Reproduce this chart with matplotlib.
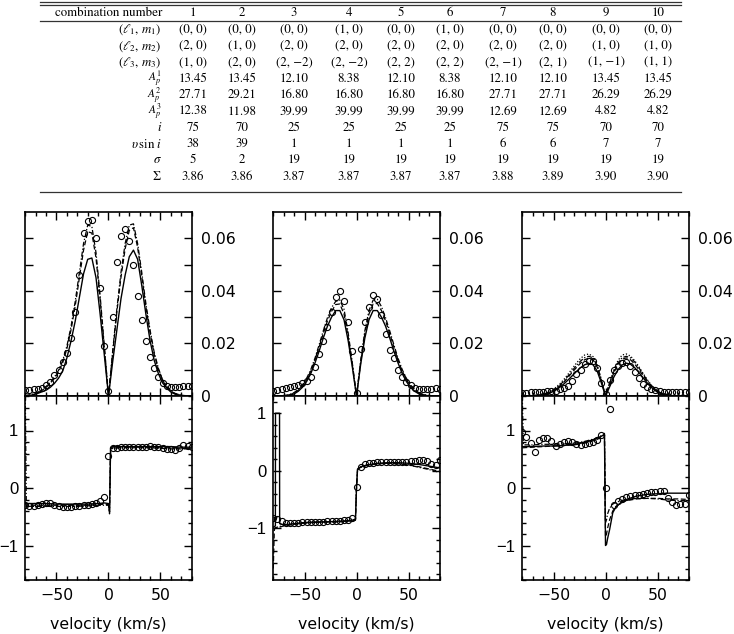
import numpy as np
import matplotlib
matplotlib.use("Agg")
import matplotlib.pyplot as plt
from matplotlib.lines import Line2D
from matplotlib.ticker import FixedLocator, MultipleLocator

plt.rcParams["font.family"] = "DejaVu Sans"
plt.rcParams["mathtext.fontset"] = "stix"

W, H = 734, 634  # размер картинки в пикселях

# ─── таблица параметров ───
combo = ["1", "2", "3", "4", "5", "6", "7", "8", "9", "10"]
lm1 = ["(0, 0)", "(0, 0)", "(0, 0)", "(1, 0)", "(0, 0)", "(1, 0)", "(0, 0)", "(0, 0)", "(0, 0)", "(0, 0)"]
lm2 = ["(2, 0)", "(1, 0)", "(2, 0)", "(2, 0)", "(2, 0)", "(2, 0)", "(2, 0)", "(2, 0)", "(1, 0)", "(1, 0)"]
lm3 = ["(1, 0)", "(2, 0)", "(2, −2)", "(2, −2)", "(2, 2)", "(2, 2)", "(2, −1)", "(2, 1)", "(1, −1)", "(1, 1)"]
amp1 = ["13.45", "13.45", "12.10", "8.38", "12.10", "8.38", "12.10", "12.10", "13.45", "13.45"]
amp2 = ["27.71", "29.21", "16.80", "16.80", "16.80", "16.80", "27.71", "27.71", "26.29", "26.29"]
amp3 = ["12.38", "11.98", "39.99", "39.99", "39.99", "39.99", "12.69", "12.69", "4.82", "4.82"]
incl = ["75", "70", "25", "25", "25", "25", "75", "75", "70", "70"]
vsini = ["38", "39", "1", "1", "1", "1", "6", "6", "7", "7"]
sig = ["5", "2", "19", "19", "19", "19", "19", "19", "19", "19"]
chi = ["3.86", "3.86", "3.87", "3.87", "3.87", "3.87", "3.88", "3.89", "3.90", "3.90"]
row_names = [r"$(\ell_1,\, m_1)$", r"$(\ell_2,\, m_2)$", r"$(\ell_3,\, m_3)$",
             r"$A_p^1$", r"$A_p^2$", r"$A_p^3$", r"$i$", r"$\upsilon\,\sin\,i$",
             r"$\sigma$", r"$\Sigma$"]
rows = [lm1, lm2, lm3, amp1, amp2, amp3, incl, vsini, sig, chi]

# ─── профили (верхние панели), сетка по скорости ───
vel = np.arange(-80, 81, 4)

obs_I = [
    # колонка 1
    [0.0022, 0.0024, 0.0026, 0.0028, 0.0032, 0.0040, 0.0054, 0.0078, 0.0100, 0.0128,
     0.0165, 0.0220, 0.0320, 0.0460, 0.0620, 0.0665, 0.0670, 0.0600, 0.0410, 0.0190,
     0.0020, 0.0300, 0.0510, 0.0610, 0.0635, 0.0590, 0.0500, 0.0380, 0.0290, 0.0210,
     0.0150, 0.0108, 0.0072, 0.0048, 0.0037, 0.0035, 0.0035, 0.0036, 0.0037, 0.0038, 0.0038],
    # колонка 2
    [0.0020, 0.0024, 0.0027, 0.0030, 0.0033, 0.0037, 0.0043, 0.0050, 0.0058, 0.0072,
     0.0110, 0.0160, 0.0210, 0.0262, 0.0320, 0.0375, 0.0400, 0.0360, 0.0280, 0.0170,
     0.0010, 0.0180, 0.0280, 0.0340, 0.0385, 0.0370, 0.0310, 0.0235, 0.0175, 0.0145,
     0.0100, 0.0073, 0.0052, 0.0040, 0.0030, 0.0026, 0.0025, 0.0025, 0.0027, 0.0030, 0.0028],
    # колонка 3
    [0.0012, 0.0013, 0.0014, 0.0015, 0.0016, 0.0017, 0.0018, 0.0019, 0.0020, 0.0025,
     0.0030, 0.0038, 0.0058, 0.0082, 0.0100, 0.0121, 0.0133, 0.0132, 0.0105, 0.0048,
     0.0008, 0.0062, 0.0100, 0.0115, 0.0124, 0.0128, 0.0113, 0.0092, 0.0068, 0.0047,
     0.0035, 0.0026, 0.0022, 0.0018, 0.0016, 0.0015, 0.0014, 0.0014, 0.0015, 0.0015, 0.0015],
]

fit_I_solid = [
    [0.0001, 0.0002, 0.0005, 0.0010, 0.0016, 0.0022, 0.0033, 0.0048, 0.0068, 0.0095,
     0.0145, 0.0210, 0.0285, 0.0375, 0.0465, 0.0520, 0.0525, 0.0450, 0.0310, 0.0155,
     0.0000, 0.0130, 0.0250, 0.0370, 0.0460, 0.0530, 0.0555, 0.0520, 0.0420, 0.0310,
     0.0210, 0.0135, 0.0085, 0.0050, 0.0030, 0.0015, 0.0007, 0.0003, 0.0001, 0.0000, 0.0000],
    [0.0000, 0.0000, 0.0000, 0.0001, 0.0003, 0.0008, 0.0018, 0.0033, 0.0055, 0.0085,
     0.0125, 0.0170, 0.0220, 0.0265, 0.0300, 0.0325, 0.0325, 0.0290, 0.0210, 0.0110,
     0.0000, 0.0120, 0.0220, 0.0290, 0.0325, 0.0325, 0.0300, 0.0265, 0.0220, 0.0170,
     0.0125, 0.0085, 0.0055, 0.0033, 0.0018, 0.0008, 0.0003, 0.0001, 0.0000, 0.0000, 0.0000],
    [0.0000, 0.0000, 0.0000, 0.0001, 0.0002, 0.0004, 0.0008, 0.0014, 0.0022, 0.0033,
     0.0046, 0.0061, 0.0077, 0.0093, 0.0108, 0.0119, 0.0124, 0.0119, 0.0095, 0.0050,
     0.0000, 0.0035, 0.0072, 0.0100, 0.0118, 0.0125, 0.0121, 0.0108, 0.0090, 0.0070,
     0.0050, 0.0033, 0.0020, 0.0011, 0.0006, 0.0003, 0.0001, 0.0000, 0.0000, 0.0000, 0.0000],
]

fit_I_dashed = [
    [0.0001, 0.0003, 0.0006, 0.0012, 0.0021, 0.0033, 0.0048, 0.0067, 0.0092, 0.0127,
     0.0180, 0.0252, 0.0343, 0.0450, 0.0555, 0.0625, 0.0620, 0.0525, 0.0365, 0.0182,
     0.0000, 0.0163, 0.0318, 0.0452, 0.0560, 0.0630, 0.0640, 0.0565, 0.0455, 0.0338,
     0.0240, 0.0158, 0.0100, 0.0059, 0.0034, 0.0019, 0.0009, 0.0004, 0.0002, 0.0001, 0.0000],
    [0.0000, 0.0000, 0.0001, 0.0002, 0.0005, 0.0011, 0.0022, 0.0038, 0.0062, 0.0094,
     0.0136, 0.0185, 0.0237, 0.0285, 0.0322, 0.0348, 0.0350, 0.0312, 0.0226, 0.0118,
     0.0000, 0.0128, 0.0236, 0.0312, 0.0350, 0.0352, 0.0325, 0.0285, 0.0237, 0.0185,
     0.0136, 0.0094, 0.0062, 0.0038, 0.0022, 0.0011, 0.0005, 0.0002, 0.0001, 0.0000, 0.0000],
    [0.0000, 0.0000, 0.0000, 0.0001, 0.0003, 0.0005, 0.0010, 0.0017, 0.0026, 0.0038,
     0.0053, 0.0071, 0.0090, 0.0108, 0.0125, 0.0138, 0.0144, 0.0138, 0.0110, 0.0058,
     0.0000, 0.0045, 0.0088, 0.0120, 0.0140, 0.0145, 0.0138, 0.0122, 0.0101, 0.0078,
     0.0056, 0.0037, 0.0023, 0.0013, 0.0007, 0.0003, 0.0001, 0.0000, 0.0000, 0.0000, 0.0000],
]

fit_I_dashdot = [
    [0.0002, 0.0004, 0.0008, 0.0014, 0.0024, 0.0036, 0.0052, 0.0072, 0.0098, 0.0135,
     0.0190, 0.0265, 0.0360, 0.0470, 0.0580, 0.0650, 0.0645, 0.0545, 0.0380, 0.0190,
     0.0000, 0.0170, 0.0330, 0.0470, 0.0580, 0.0650, 0.0655, 0.0580, 0.0470, 0.0350,
     0.0250, 0.0165, 0.0105, 0.0062, 0.0036, 0.0020, 0.0010, 0.0005, 0.0002, 0.0001, 0.0000],
    [0.0000, 0.0000, 0.0001, 0.0003, 0.0006, 0.0013, 0.0025, 0.0042, 0.0067, 0.0100,
     0.0143, 0.0194, 0.0247, 0.0297, 0.0336, 0.0360, 0.0365, 0.0330, 0.0240, 0.0125,
     0.0000, 0.0135, 0.0248, 0.0325, 0.0365, 0.0368, 0.0340, 0.0297, 0.0247, 0.0194,
     0.0143, 0.0100, 0.0067, 0.0042, 0.0025, 0.0013, 0.0006, 0.0003, 0.0001, 0.0000, 0.0000],
    [0.0000, 0.0000, 0.0001, 0.0002, 0.0003, 0.0006, 0.0011, 0.0018, 0.0028, 0.0041,
     0.0057, 0.0076, 0.0096, 0.0116, 0.0133, 0.0146, 0.0151, 0.0145, 0.0115, 0.0061,
     0.0000, 0.0048, 0.0093, 0.0126, 0.0146, 0.0151, 0.0145, 0.0130, 0.0108, 0.0084,
     0.0060, 0.0040, 0.0025, 0.0014, 0.0008, 0.0004, 0.0002, 0.0000, 0.0000, 0.0000, 0.0000],
]

# точечная модель видна только в третьей колонке
fit_I_dotted_3 = [0.0000, 0.0000, 0.0001, 0.0002, 0.0004, 0.0007, 0.0013, 0.0021, 0.0032, 0.0046,
                  0.0063, 0.0083, 0.0104, 0.0125, 0.0143, 0.0156, 0.0160, 0.0150, 0.0118, 0.0063,
                  0.0000, 0.0052, 0.0100, 0.0135, 0.0156, 0.0160, 0.0152, 0.0135, 0.0112, 0.0087,
                  0.0063, 0.0042, 0.0027, 0.0016, 0.0009, 0.0004, 0.0002, 0.0001, 0.0000, 0.0000, 0.0000]

# ─── отношения (нижние панели) ───
obs_R = [
    [-0.30, -0.31, -0.31, -0.30, -0.28, -0.26, -0.26, -0.29, -0.32, -0.33,
     -0.33, -0.33, -0.32, -0.31, -0.30, -0.29, -0.28, -0.26, -0.23, -0.16,
     0.55, 0.69, 0.70, 0.71, 0.71, 0.72, 0.72, 0.72, 0.72, 0.72,
     0.73, 0.72, 0.71, 0.70, 0.68, 0.68, 0.66, 0.70, 0.74, 0.73, 0.72],
    [-0.82, -0.84, -0.88, -0.90, -0.90, -0.90, -0.90, -0.89, -0.89, -0.89,
     -0.89, -0.89, -0.89, -0.88, -0.88, -0.88, -0.87, -0.86, -0.85, -0.83,
     -0.28, 0.07, 0.11, 0.13, 0.14, 0.145, 0.15, 0.15, 0.155, 0.155,
     0.15, 0.15, 0.16, 0.17, 0.17, 0.18, 0.19, 0.17, 0.12, 0.10, 0.19],
    [0.97, 0.89, 0.78, 0.62, 0.83, 0.87, 0.87, 0.81, 0.73, 0.76,
     0.80, 0.81, 0.80, 0.76, 0.75, 0.77, 0.79, 0.80, 0.84, 0.92,
     0.00, 1.38, -0.30, -0.22, -0.19, -0.16, -0.145, -0.13, -0.12, -0.11,
     -0.08, -0.075, -0.07, -0.05, -0.05, -0.17, -0.25, -0.30, -0.27, -0.27, -0.13],
]

vel_R1 = [-80, -79, -70, -60, -50, -40, -30, -20, -10, -4, 0, 1, 2, 4, 10, 20, 30, 40, 50, 60, 70, 80]
fit_R1_solid = [-0.27, -0.27, -0.27, -0.27, -0.28, -0.28, -0.28, -0.28, -0.27, -0.26, -0.27, -0.42,
                0.70, 0.72, 0.72, 0.72, 0.72, 0.72, 0.72, 0.72, 0.71, 0.71]
fit_R1_dashed = [-0.25, -0.30, -0.30, -0.30, -0.30, -0.30, -0.30, -0.30, -0.29, -0.28, -0.29, -0.38,
                 0.68, 0.70, 0.70, 0.70, 0.70, 0.70, 0.69, 0.68, 0.68, 0.68]
fit_R1_dashdot = [1.60, -0.32, -0.32, -0.32, -0.32, -0.32, -0.32, -0.31, -0.30, -0.30, -0.30, -0.45,
                  0.66, 0.69, 0.70, 0.71, 0.71, 0.71, 0.70, 0.70, 0.69, 0.69]

vel_R2 = [-80, -79, -78, -77.9, -74, -73.9, -70, -60, -50, -40, -30, -20, -10, -4, -1, 0, 1, 4,
          10, 20, 30, 40, 50, 60, 70, 80]
fit_R2_solid = [-0.98, -0.97, -0.96, 1.00, 1.00, -0.92, -0.94, -0.92, -0.90, -0.89, -0.89, -0.88,
                -0.87, -0.86, -0.84, -0.30, 0.03, 0.07, 0.10, 0.13, 0.14, 0.14, 0.13, 0.11, 0.08, 0.05]
fit_R2_dashed = [-1.70, -1.02, -1.00, -1.00, -0.98, -0.98, -0.96, -0.93, -0.91, -0.90, -0.89, -0.89,
                 -0.88, -0.87, -0.86, -0.30, 0.02, 0.06, 0.09, 0.12, 0.13, 0.12, 0.10, 0.07, 0.03, -0.01]
fit_R2_dashdot = [-1.00, -1.00, -0.99, -0.99, -0.97, -0.97, -0.95, -0.93, -0.91, -0.90, -0.89, -0.89,
                  -0.88, -0.87, -0.85, -0.30, 0.02, 0.06, 0.10, 0.12, 0.13, 0.12, 0.10, 0.06, 0.02, -0.03]

vel_R3 = [-80, -79, -70, -60, -50, -40, -30, -20, -10, -4, -1, 0, 1, 2, 4, 7, 10, 15, 20, 30, 40,
          50, 60, 70, 80]
fit_R3_solid = [0.72, 0.72, 0.72, 0.73, 0.73, 0.74, 0.76, 0.79, 0.85, 0.90, 0.93, -1.00, -0.98,
                -0.88, -0.72, -0.43, -0.33, -0.25, -0.20, -0.14, -0.11, -0.10, -0.09, -0.09, -0.09]
fit_R3_dashed = [0.70, 0.70, 0.71, 0.72, 0.73, 0.74, 0.75, 0.78, 0.83, 0.88, 0.92, -0.85, -0.80,
                 -0.70, -0.55, -0.40, -0.32, -0.26, -0.22, -0.19, -0.18, -0.18, -0.19, -0.19, -0.20]
fit_R3_dashdot = [1.60, 0.75, 0.75, 0.76, 0.76, 0.77, 0.78, 0.81, 0.86, 0.91, 0.95, -0.60, -0.55,
                  -0.45, -0.35, -0.28, -0.25, -0.22, -0.20, -0.18, -0.18, -0.19, -0.21, -0.22, -0.22]

ratio_fits = [
    (vel_R1, fit_R1_solid, fit_R1_dashed, fit_R1_dashdot),
    (vel_R2, fit_R2_solid, fit_R2_dashed, fit_R2_dashdot),
    (vel_R3, fit_R3_solid, fit_R3_dashed, fit_R3_dashdot),
]
ratio_ylim = [(-1.6, 1.6), (-1.9, 1.3), (-1.6, 1.6)]


def fx(px):
    return px / W


def fy(py):
    return 1 - py / H


fig = plt.figure(figsize=(W / 100, H / 100), dpi=100)

# ─── таблица ───
tab_font = dict(family="STIXGeneral", fontsize=9.3)
col_x = [193, 242, 294, 349, 401, 450, 503, 553, 606, 658]
label_x = 162
for y in (1.5, 4.5, 20.7, 191.5):
    fig.add_artist(Line2D([fx(40), fx(681)], [fy(y), fy(y)], color="#333333", lw=0.9))

fig.text(fx(label_x), fy(12.7), "combination number", ha="right", va="center", **tab_font)
for x, c in zip(col_x, combo):
    fig.text(fx(x), fy(12.7), c, ha="center", va="center", **tab_font)

for k, (name, vals) in enumerate(zip(row_names, rows)):
    y = 30 + 16.3 * k
    # строки A_p стоят плотно: индексы чуть мельче, чтобы не налезали
    name_size = 8.2 if name.startswith(r"$A_p") else 9.3
    fig.text(fx(label_x), fy(y), name, ha="right", va="center",
             family="STIXGeneral", fontsize=name_size)
    for x, v in zip(col_x, vals):
        fig.text(fx(x), fy(y), v, ha="center", va="center", **tab_font)

# ─── панели ───
col_left = [25.3, 273.3, 522.3]
pw = 166.4
ph = 184
top_y0 = 396
bot_y0 = 580

mk = dict(ls="none", marker="o", ms=4.4, mfc="none", mec="black", mew=0.8)
tick_kw = dict(direction="in", top=True, bottom=True, left=True, right=True,
               width=1, labelsize=11.3, colors="black")

for j in range(3):
    ax = fig.add_axes([fx(col_left[j]), fy(top_y0), pw / W, ph / H])
    ax.plot(vel, obs_I[j], **mk)
    ax.plot(vel, fit_I_solid[j], color="black", lw=1.0, ls="-")
    ax.plot(vel, fit_I_dashed[j], color="black", lw=0.9, ls=(0, (4, 2)))
    ax.plot(vel, fit_I_dashdot[j], color="black", lw=0.9, ls=(0, (4, 1.5, 1, 1.5)))
    if j == 2:
        ax.plot(vel, fit_I_dotted_3, color="black", lw=0.9, ls=(0, (1, 1.5)))
    ax.set_xlim(-80, 80)
    ax.set_ylim(0, 0.07)
    ax.xaxis.set_major_locator(FixedLocator([-50, 0, 50]))
    ax.xaxis.set_minor_locator(MultipleLocator(10))
    ax.set_yticks([0, 0.02, 0.04, 0.06])
    ax.set_yticklabels(["0", "0.02", "0.04", "0.06"])
    ax.yaxis.set_minor_locator(FixedLocator([0.01, 0.03, 0.05]))
    ax.tick_params(which="both", labelbottom=False, labelleft=False, labelright=True,
                   pad=7, **tick_kw)
    ax.tick_params(which="major", length=6)
    ax.tick_params(which="minor", length=3)
    ax.tick_params(axis="y", which="minor", length=6)
    for s in ax.spines.values():
        s.set_linewidth(1.2)

    bx = fig.add_axes([fx(col_left[j]), fy(bot_y0), pw / W, ph / H])
    vr, f_s, f_d, f_dd = ratio_fits[j]
    bx.plot(vel, obs_R[j], **mk)
    bx.plot(vr, f_s, color="black", lw=1.0, ls="-")
    bx.plot(vr, f_d, color="black", lw=0.9, ls=(0, (4, 2)))
    bx.plot(vr, f_dd, color="black", lw=0.9, ls=(0, (4, 1.5, 1, 1.5)))
    bx.set_xlim(-80, 80)
    bx.set_ylim(*ratio_ylim[j])
    bx.xaxis.set_major_locator(FixedLocator([-50, 0, 50]))
    bx.xaxis.set_minor_locator(MultipleLocator(10))
    bx.set_xticklabels(["−50", "0", "50"])
    bx.set_yticks([-1, 0, 1])
    bx.set_yticklabels(["−1", "0", "1"])
    bx.yaxis.set_minor_locator(MultipleLocator(0.2))
    bx.tick_params(which="both", labelbottom=True, labelleft=True, **tick_kw)
    bx.tick_params(axis="x", pad=6)
    bx.tick_params(axis="y", pad=5)
    bx.tick_params(which="major", length=6)
    bx.tick_params(which="minor", length=3)
    # у DejaVu очень широкий минус, «−1» иначе вылезает за левый край
    for lab in bx.get_yticklabels():
        lab.set_fontfamily("Liberation Sans")
        lab.set_fontsize(12)
    bx.set_xlabel("velocity (km/s)", fontsize=11.3, labelpad=10)
    for s in bx.spines.values():
        s.set_linewidth(1.2)

fig.savefig("out.png", dpi=100)
